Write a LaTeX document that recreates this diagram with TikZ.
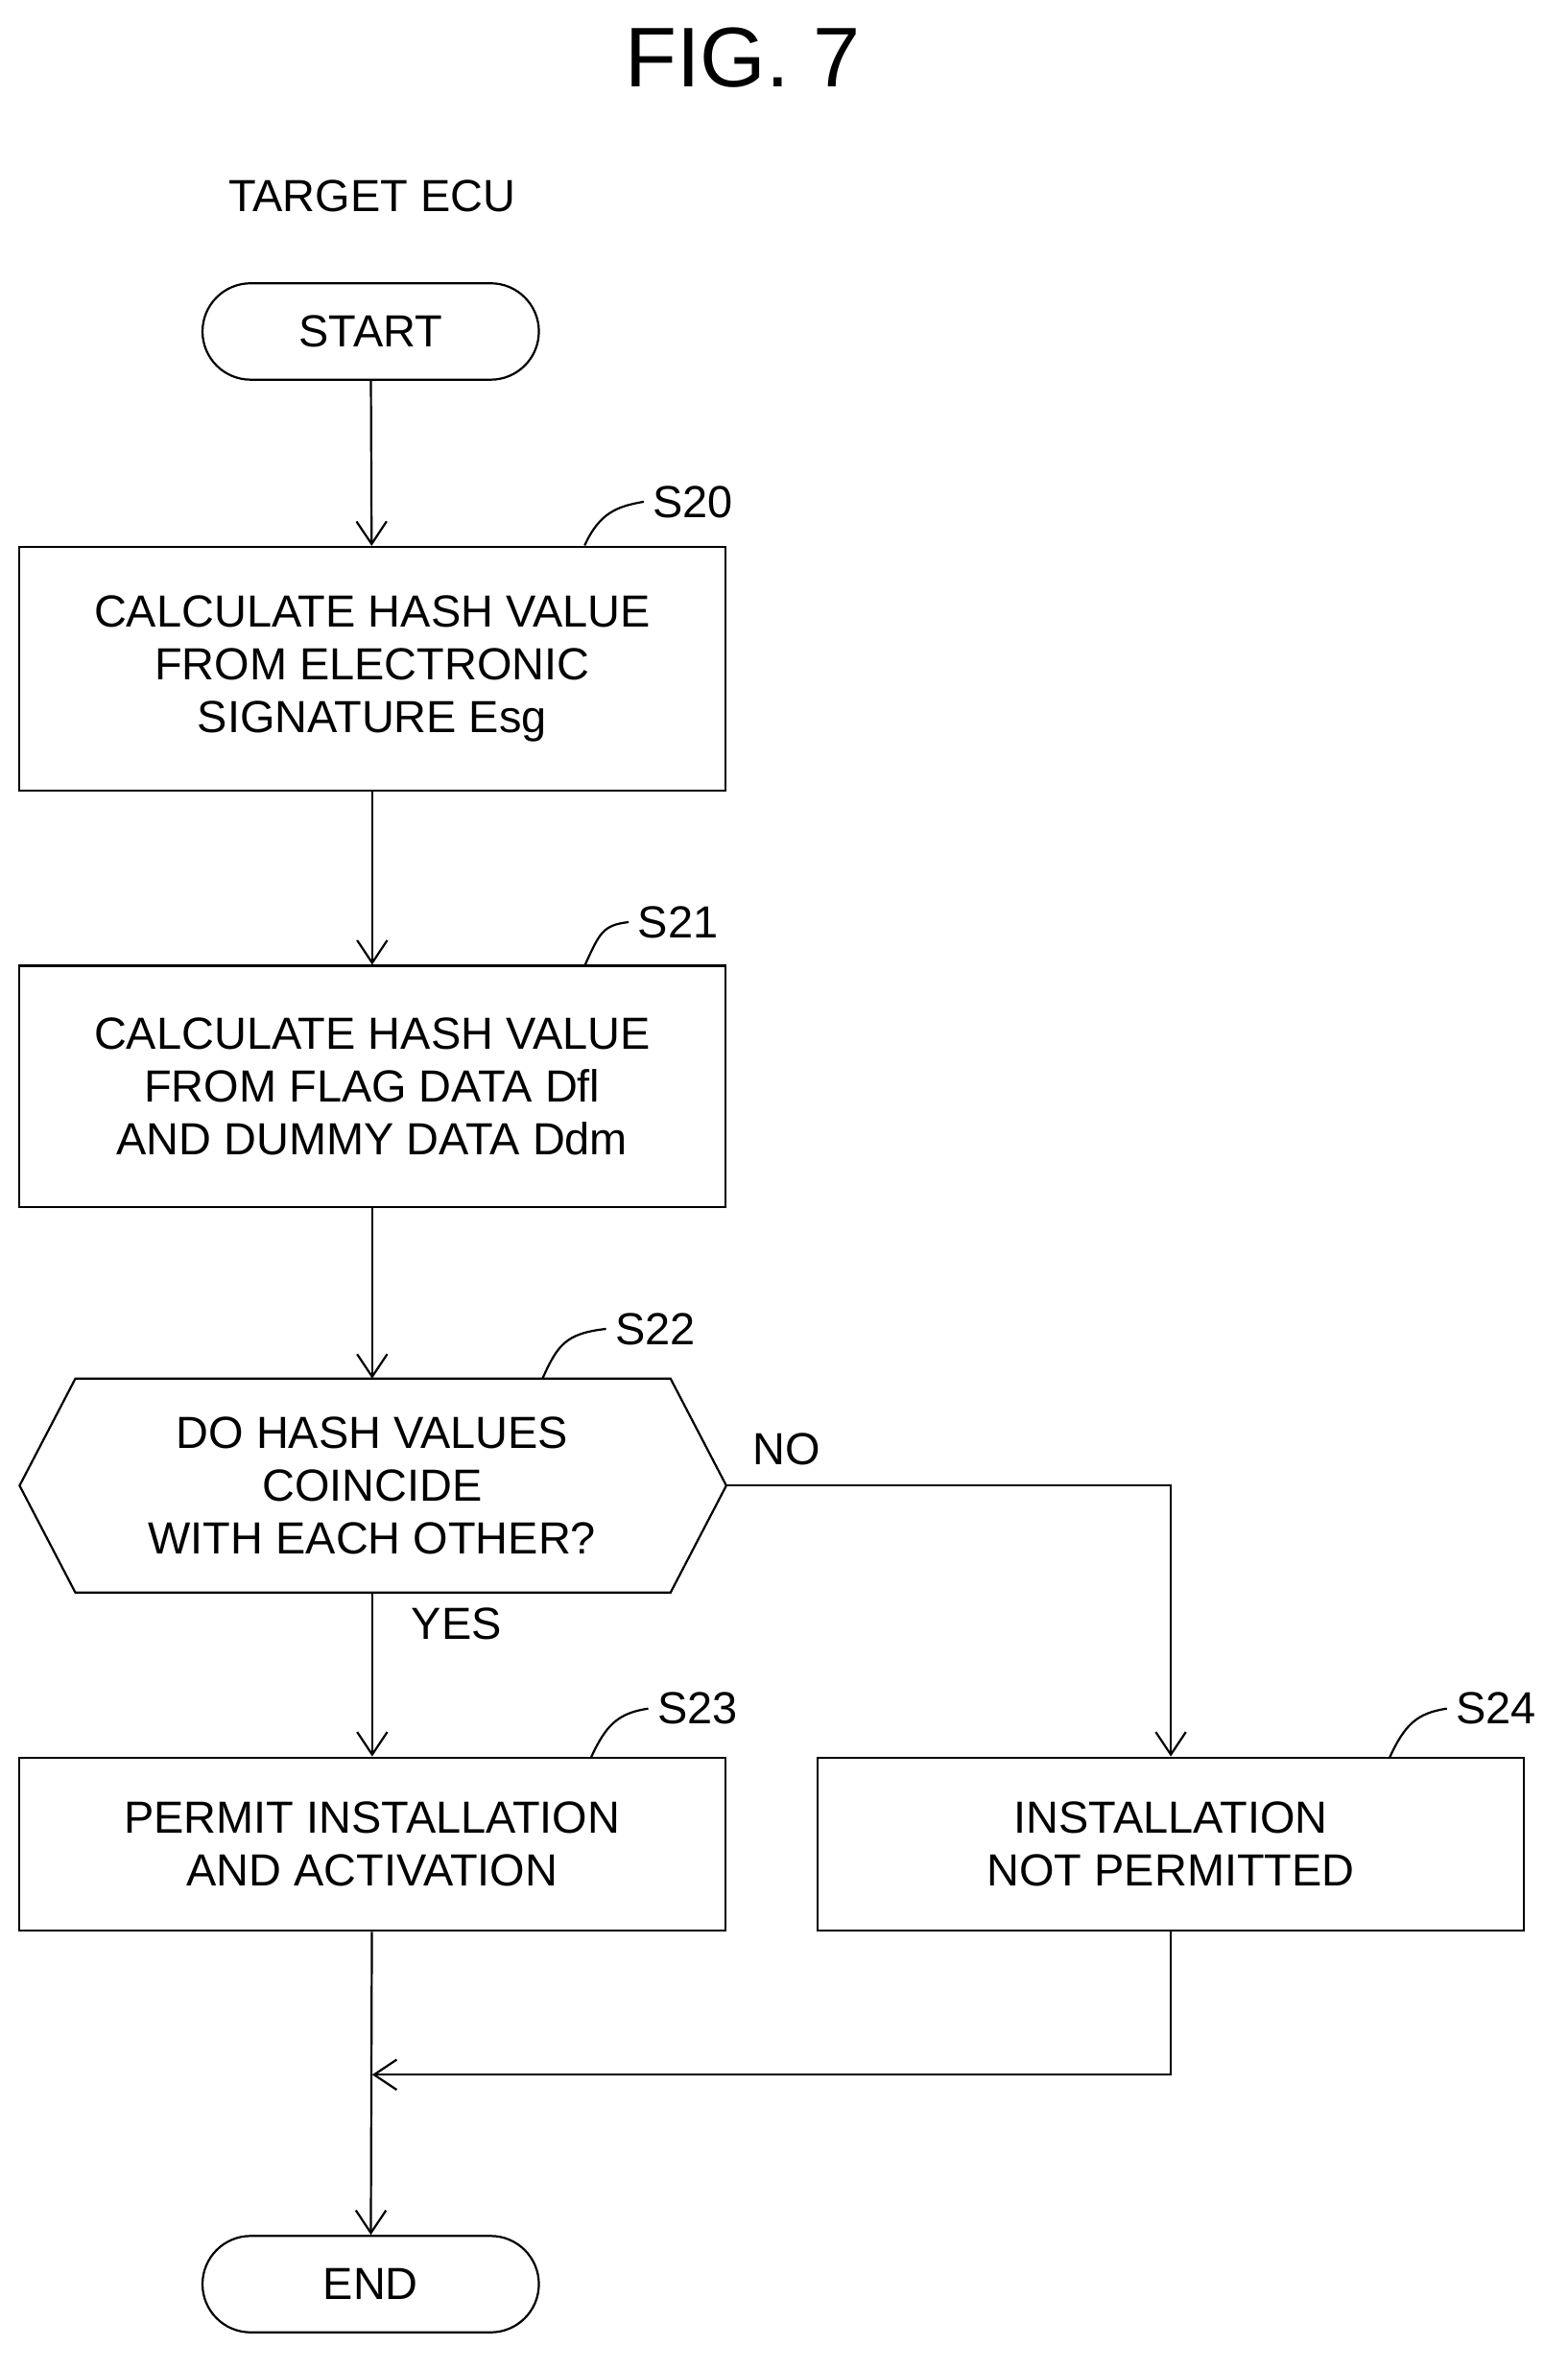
\documentclass[tikz,border=0pt]{standalone}
\usepackage{fontspec}
\setmainfont{Liberation Sans}
\usetikzlibrary{positioning,shapes.misc,shapes.geometric,arrows.meta}

\begin{document}
\begin{tikzpicture}[x=0.02cm,y=-0.02cm,
    every node/.style={font=\fontsize{17}{20}\selectfont},
    box/.style={draw,thick,rectangle,minimum width=9.38cm,align=center},
    term/.style={draw,thick,rounded rectangle,minimum width=4.7cm,minimum height=1.28cm},
    link/.style={thick,-{Straight Barb[length=3mm,width=4mm]}},
    tag/.style={thick}]
  \useasboundingbox (0,0) rectangle (1040,1573);
  %%%%% TITLES
  \node (FIG) at (493,38) {\fontsize{32}{36}\selectfont FIG. 7};
  \node (ECU) at (247,130) {TARGET ECU};
  %%%%% THE STEPS
  \node[term] (START) at (246,220) {START};
  \node[box,minimum height=3.24cm] (S20) at (247,444)
    {CALCULATE HASH VALUE\\FROM ELECTRONIC\\SIGNATURE Esg};
  \node[box,minimum height=3.2cm] (S21) at (247,721)
    {CALCULATE HASH VALUE\\FROM FLAG DATA Dfl\\AND DUMMY DATA Ddm};
  \draw[thick] (13,986) -- (50,915) -- (445,915) -- (482,986) -- (445,1057) -- (50,1057) -- cycle;
  \node[align=center] (S22) at (247,986) {DO HASH VALUES\\COINCIDE\\WITH EACH OTHER?};
  \coordinate (S22L) at (247,1057);
  \coordinate (S22R) at (482,986);
  \node[box,minimum height=2.3cm] (S23) at (247,1224) {PERMIT INSTALLATION\\AND ACTIVATION};
  \node[box,minimum height=2.3cm] (S24) at (777,1224) {INSTALLATION\\NOT PERMITTED};
  \node[term] (END) at (246,1516) {END};
  %%%%% STEP LABELS
  \node (L20) at (460,333) {S20};
  \node (L21) at (450,612) {S21};
  \node (L22) at (435,882) {S22};
  \node (L23) at (463,1134) {S23};
  \node (L24) at (993,1134) {S24};
  \draw[tag] (388,362) .. controls (398,340) and (410,336) .. (L20.west);
  \draw[tag] (388,641) .. controls (398,619) and (400,614) .. (L21.west);
  \draw[tag] (360,915) .. controls (370,893) and (375,885) .. (L22.west);
  \draw[tag] (392,1167) .. controls (402,1145) and (410,1137) .. (L23.west);
  \draw[tag] (922,1167) .. controls (932,1145) and (940,1137) .. (L24.west);
  %%%%% LINKS
  \node (NO) at (522,962) {NO};
  \node (YES) at (303,1078) {YES};
  \coordinate (JOIN) at (247,1377);
  \draw[link] (START) -- (S20);
  \draw[link] (S20) -- (S21);
  \draw[link] (S21) -- (247,915);
  \draw[link] (S22L) -- (S23);
  \draw[link] (S22R) -| (S24);
  \draw[link] (S24.south) |- (JOIN);
  \draw[link] (S23) -- (END);
\end{tikzpicture}
\end{document}
